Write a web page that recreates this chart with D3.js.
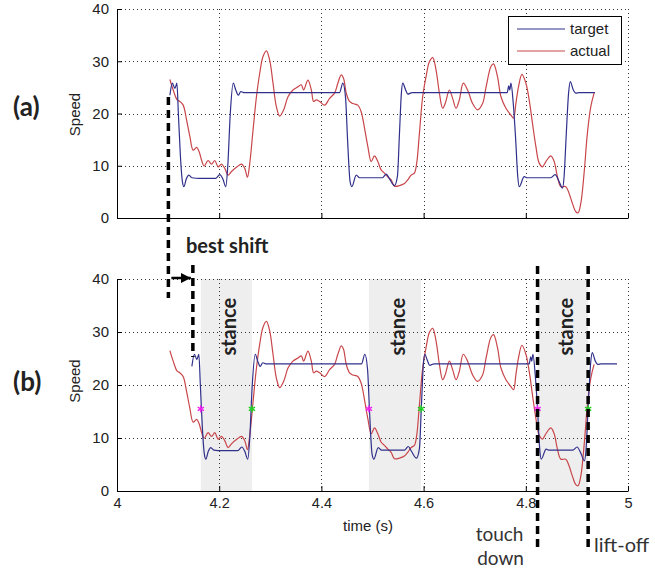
<!DOCTYPE html>
<html>
<head>
<meta charset="utf-8">
<script src="https://cdn.jsdelivr.net/npm/d3@7"></script>
<style>
  html, body { margin: 0; padding: 0; background: #fff; }
  svg { display: block; }
  .tick text { font-family: "Liberation Sans", Arial, sans-serif; fill: #222; }
</style>
</head>
<body>
<svg id="chart" width="655" height="571"></svg>
<script>
// ---------------- data ----------------
const targetTime = [4.1035,4.1084,4.1133,4.1172,4.1201,4.1240,4.1279,4.1309,4.1357,4.1406,4.1465,4.1621,4.1934,4.2012,4.2070,4.2129,4.2168,4.2217,4.2275,4.2324,4.2373,4.2422,4.2480,
  4.4355,4.4420,4.4473,4.4512,4.4561,4.4596,4.4682,4.4746,4.5195,4.5268,4.5332,4.5430,4.5488,4.5527,4.5566,4.5592,4.5645,4.5690,4.5775,
  4.7637,4.7666,4.7686,4.7709,4.7754,4.7799,4.7842,4.7871,4.7969,4.8027,4.8490,4.8574,4.8652,4.8717,4.8750,4.8789,4.8838,4.8871,4.8926,4.8979,4.9043,4.9355];
const targetSpeed = [23.5,25.8,24.8,25.8,20,12,7,6.0,7.5,8.2,7.7,7.6,7.6,8.3,7.5,6.0,10,20,25.8,24.5,23.5,24.2,24,
  24,25.8,23,15,7,6,8.2,7.7,7.7,8.4,7.5,6.2,8,16,24,25.8,24.6,23.7,24,
  24,25.3,24.5,25.8,22,15.5,8,6,7.9,7.7,7.7,8.3,7.0,5.7,8,15.5,24,26.1,24.6,23.9,24,24];

const actualTime = [4.1035,4.1100,4.1178,4.1230,4.1295,4.1361,4.1426,4.1490,4.1557,4.1607,4.1654,4.1705,4.1783,4.1850,4.1914,4.1979,4.2045,4.2109,4.2174,4.2240,4.2350,4.2436,4.2500,4.2553,4.2598,
  4.2662,4.2729,4.2793,4.2857,4.2924,4.2988,4.3053,4.3119,4.3184,4.3262,4.3346,4.3443,4.3541,4.3607,4.3652,4.3736,4.3803,4.3848,4.3900,4.3965,
  4.4063,4.4160,4.4258,4.4322,4.4389,4.4434,4.4486,4.4551,4.4615,4.4713,4.4779,4.4844,4.4908,4.4975,4.5039,4.5104,4.5170,4.5234,4.5299,4.5365,4.5430,
  4.5527,4.5625,4.5690,4.5756,4.5820,4.5865,4.5918,4.5982,4.6049,4.6113,4.6178,4.6244,4.6309,4.6373,4.6426,4.6504,4.6568,4.6635,4.6699,4.6777,4.6861,
  4.6959,4.7057,4.7154,4.7221,4.7318,4.7369,4.7447,4.7514,4.7611,4.7709,4.7760,4.7807,4.7857,4.7924,4.8002,4.8066,4.8131,4.8197,4.8262,4.8326,4.8393,
  4.8490,4.8555,4.8619,4.8686,4.8783,4.8848,4.8912,4.8979,4.9023,4.9076,4.9141,4.9205,4.9272,4.9336];
const actualSpeed = [26.5,24.5,22.6,22.3,21.6,18.8,15.6,13.0,13.5,12.7,11.1,9.95,11.0,10.3,11.0,9.8,10.3,9.5,8.2,8.9,9.8,10.3,9.5,7.8,10.5,
  16.8,23.2,27.7,30.9,32.0,30.2,25.8,21.3,19.5,20.7,23.2,24.5,25.1,25.5,24.5,26.4,24.5,22.3,22.6,22.3,
  21.6,22.9,23.9,25.8,27.4,26.7,23.9,22.3,21.9,21.6,20.3,17.2,13.7,10.8,11.9,10.8,9.2,8.6,7.9,7.3,6.1,
  6.2,6.6,7.3,8.2,8.6,10.5,16.2,23.2,27.1,29.9,30.7,28.3,23.9,21.0,22.0,24.5,22.9,21.0,22.6,25.8,24.5,
  21.9,20.7,21.9,25.0,29.0,29.5,27.0,23.2,21.0,19.7,19.1,22.0,25.1,27.5,25.8,22.6,18.1,13.7,10.5,9.8,10.8,
  11.9,10.8,7.9,6.0,6.0,4.7,2.8,1.2,1.0,2.8,8.6,16.2,21.3,23.9];

const bestShift = 0.043;             // seconds the target is shifted in (b)
const stanceStart = [4.164, 4.493, 4.823];   // touch down
const stanceEnd   = [4.264, 4.595, 4.922];   // lift-off
const markerSpeed = 15.5;

const xTicks = [4, 4.2, 4.4, 4.6, 4.8, 5];
const yTicks = [0, 10, 20, 30, 40];
const seriesNames = ["target", "actual"];
const seriesColors = ["#30308c", "#c8464a"];

// ---------------- layout ----------------
const svg = d3.select("#chart");
const x = d3.scaleLinear().domain([4, 5]).range([117, 628]);
const yTop = d3.scaleLinear().domain([0, 40]).range([218, 9]);
const yBot = d3.scaleLinear().domain([0, 40]).range([491, 279]);

const target = targetTime.map((t, i) => ({t, v: targetSpeed[i]}));
const actual = actualTime.map((t, i) => ({t, v: actualSpeed[i]}));
const targetShifted = target.map(d => ({t: d.t + bestShift, v: d.v}));

function drawPanel(y, showXLabels, extraBelowGrid) {
  const g = svg.append("g");
  if (extraBelowGrid) extraBelowGrid(g);
  const grid = g.append("g").attr("stroke", "#333").attr("stroke-width", 1)
    .attr("stroke-dasharray", "1,3").attr("fill", "none");
  yTicks.filter(v => v > 0).forEach(v => {
    grid.append("line").attr("x1", x(4)).attr("x2", x(5))
      .attr("y1", Math.round(y(v)) + 0.5).attr("y2", Math.round(y(v)) + 0.5);
  });
  xTicks.filter(t => t > 4).forEach(t => {
    grid.append("line").attr("x1", Math.round(x(t)) + 0.5).attr("x2", Math.round(x(t)) + 0.5)
      .attr("y1", y(40)).attr("y2", y(0));
  });
  return g;
}

function drawLines(g, y, tgt) {
  const lineT = d3.line().x(d => x(d.t)).y(d => y(d.v)).curve(d3.curveMonotoneX);
  const lineA = d3.line().x(d => x(d.t)).y(d => y(d.v)).curve(d3.curveCatmullRom.alpha(0.5));
  g.append("path").datum(actual).attr("d", lineA).attr("fill", "none")
    .attr("stroke", seriesColors[1]).attr("stroke-width", 1.2);
  g.append("path").datum(tgt).attr("d", lineT).attr("fill", "none")
    .attr("stroke", seriesColors[0]).attr("stroke-width", 1.2);
}

function drawAxes(g, y, showXLabels) {
  const ax = d3.axisBottom(x).tickValues(xTicks).tickSize(-5).tickSizeOuter(0).tickPadding(7)
    .tickFormat(showXLabels ? d3.format("") : () => "");
  const ga = g.append("g").attr("transform", `translate(0,${y(0)})`).call(ax);
  ga.selectAll("text").attr("font-size", 14.5);
  ga.selectAll("path, line").attr("stroke", "#000");
  const ay = d3.axisLeft(y).tickValues(yTicks).tickSize(-5).tickSizeOuter(0).tickPadding(8);
  const gy = g.append("g").attr("transform", `translate(${x(4)},0)`).call(ay);
  gy.selectAll("text").attr("font-size", 15);
  gy.selectAll("path, line").attr("stroke", "#000");
}

// ---- panel (a) ----
const gA = drawPanel(yTop, false);
drawLines(gA, yTop, target);
drawAxes(gA, yTop, false);

// legend
const lg = svg.append("g");
lg.append("rect").attr("x", 508.5).attr("y", 16.5).attr("width", 113).attr("height", 48)
  .attr("fill", "#fff").attr("stroke", "#000").attr("stroke-width", 1);
seriesNames.forEach((n, i) => {
  const yy = 29 + i * 22;
  lg.append("line").attr("x1", 517).attr("x2", 565).attr("y1", yy).attr("y2", yy)
    .attr("stroke", seriesColors[i]).attr("stroke-width", 1.2);
  lg.append("text").attr("x", 570).attr("y", yy + 5).text(n)
    .attr("font-family", "Liberation Sans, Arial, sans-serif").attr("font-size", 15).attr("fill", "#222");
});

// ---- panel (b) ----
const gB = drawPanel(yBot, true, g => {
  stanceStart.forEach((s, i) => {
    g.append("rect").attr("x", x(s)).attr("width", x(stanceEnd[i]) - x(s))
      .attr("y", yBot(40)).attr("height", yBot(0) - yBot(40)).attr("fill", "#eeeeee");
  });
});
drawLines(gB, yBot, targetShifted);
const star = d3.symbol().type(d3.symbolAsterisk).size(36);
stanceStart.forEach((s, i) => {
  gB.append("path").attr("d", star).attr("transform", `translate(${x(s)},${yBot(markerSpeed)})`)
    .attr("fill", "none").attr("stroke", "#f020f0").attr("stroke-width", 1.4);
  gB.append("path").attr("d", star).attr("transform", `translate(${x(stanceEnd[i])},${yBot(markerSpeed)})`)
    .attr("fill", "none").attr("stroke", "#22d022").attr("stroke-width", 1.4);
});
drawAxes(gB, yBot, true);

// stance labels
const annoFont = "Lato, 'Open Sans', sans-serif";
stanceStart.forEach((s, i) => {
  const xm = (x(s) + x(stanceEnd[i])) / 2 + 10;
  svg.append("text").attr("transform", `translate(${xm},${yBot(31)}) rotate(-90)`)
    .attr("text-anchor", "middle").attr("font-family", annoFont).attr("font-weight", 700)
    .attr("font-size", 20).attr("fill", "#222").text("stance");
});

// axis titles
const axFont = "Liberation Sans, Arial, sans-serif";
svg.append("text").attr("transform", "translate(80,114.5) rotate(-90)").attr("text-anchor", "middle")
  .attr("font-family", axFont).attr("font-size", 15).attr("fill", "#222").text("Speed");
svg.append("text").attr("transform", "translate(80,381) rotate(-90)").attr("text-anchor", "middle")
  .attr("font-family", axFont).attr("font-size", 15).attr("fill", "#222").text("Speed");
svg.append("text").attr("x", 368).attr("y", 531).attr("text-anchor", "middle")
  .attr("font-family", axFont).attr("font-size", 15).attr("fill", "#222").text("time (s)");

// panel labels
svg.append("text").attr("x", 13).attr("y", 116).attr("font-family", annoFont).attr("font-weight", 700)
  .attr("font-size", 26).attr("fill", "#222").text("(a)");
svg.append("text").attr("x", 13).attr("y", 391).attr("font-family", annoFont).attr("font-weight", 700)
  .attr("font-size", 26).attr("fill", "#222").text("(b)");

// best shift annotation
const xs0 = x(targetTime[0]) - 1.5, xs1 = x(targetTime[0] + bestShift) + 1;
const dash = g => g.attr("stroke", "#000").attr("stroke-width", 3.5).attr("stroke-dasharray", "8,5");
svg.append("line").attr("x1", xs0).attr("x2", xs0).attr("y1", 97).attr("y2", 298).call(dash);
svg.append("line").attr("x1", xs1).attr("x2", xs1).attr("y1", 265).attr("y2", 357).call(dash);
svg.append("defs").append("marker").attr("id", "ah").attr("viewBox", "0 0 10 10")
  .attr("refX", 10).attr("refY", 5).attr("markerWidth", 4).attr("markerHeight", 4)
  .attr("markerUnits", "strokeWidth").attr("orient", "auto")
  .append("path").attr("d", "M0,0L10,5L0,10z").attr("fill", "#000");
svg.append("line").attr("x1", xs0 + 3).attr("x2", xs1 - 2).attr("y1", 278).attr("y2", 278)
  .attr("stroke", "#000").attr("stroke-width", 2.5).attr("marker-end", "url(#ah)");
svg.append("text").attr("x", 186).attr("y", 253).attr("font-family", annoFont).attr("font-weight", 700)
  .attr("font-size", 20).attr("fill", "#222").text("best shift");

// touch down / lift-off
[stanceStart[2], stanceEnd[2]].forEach(t => {
  svg.append("line").attr("x1", x(t)).attr("x2", x(t)).attr("y1", 266).attr("y2", 547).call(dash);
});
svg.append("text").attr("x", x(stanceStart[2]) - 38).attr("y", 541).attr("text-anchor", "middle")
  .attr("font-family", annoFont).attr("font-size", 19).attr("fill", "#333").text("touch");
svg.append("text").attr("x", x(stanceStart[2]) - 37).attr("y", 565).attr("text-anchor", "middle")
  .attr("font-family", annoFont).attr("font-size", 19).attr("fill", "#333").text("down");
svg.append("text").attr("x", 594).attr("y", 552)
  .attr("font-family", annoFont).attr("font-size", 20).attr("fill", "#333").text("lift-off");
</script>
</body>
</html>
